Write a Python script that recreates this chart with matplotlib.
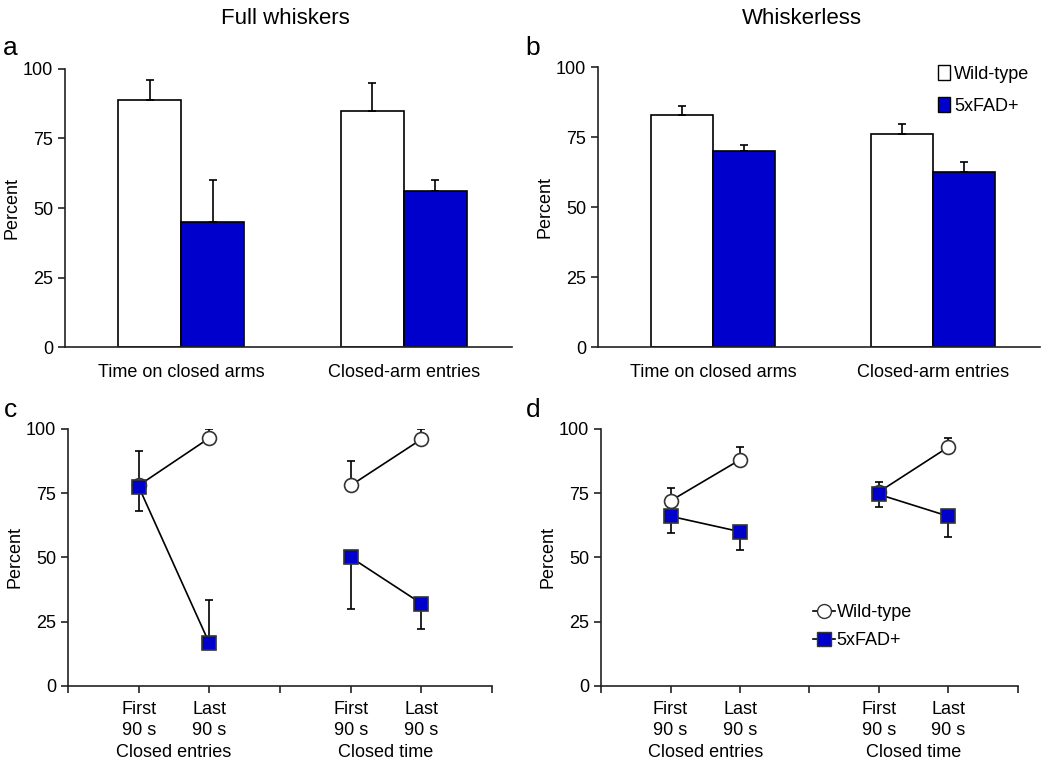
import numpy as np
import matplotlib
matplotlib.use("Agg")
import matplotlib.pyplot as plt
from matplotlib.patches import Patch
from matplotlib.lines import Line2D

plt.rcParams['font.family'] = ['Liberation Sans', 'DejaVu Sans']

BLUE = '#0000cd'

# bar panels (a, b)
bar_groups = ['Time on closed arms', 'Closed-arm entries']
a_wt = [89, 85]
a_wt_err = [7, 10]
a_fad = [45, 56]
a_fad_err = [15, 4]
b_wt = [83, 76]
b_wt_err = [3, 3.5]
b_fad = [70, 62.5]
b_fad_err = [2.3, 3.5]

# line panels (c, d)
phase_labels = ['First\n90 s', 'Last\n90 s']
line_groups = ['Closed entries', 'Closed time']
c_wt = [[78, 96.5], [78, 96]]
c_wt_up = [[13.5, 3.5], [9.5, 4]]
c_fad = [[77.5, 16.5], [50, 32]]
c_fad_lo = [[9.5, 0], [20, 10]]
c_fad_up = [[0, 17], [0, 0]]
d_wt = [[72, 88], [75.5, 93]]
d_wt_up = [[5, 5], [4, 3.5]]
d_fad = [[66, 60], [74.5, 66]]
d_fad_lo = [[6.5, 7], [5, 8]]
d_fad_up = [[0, 0], [0, 0]]

fig = plt.figure(figsize=(10.5, 7.59), dpi=100)


def style(ax):
    ax.spines['top'].set_visible(False)
    ax.spines['right'].set_visible(False)
    for s in ['left', 'bottom']:
        ax.spines[s].set_color('#222222')
        ax.spines[s].set_linewidth(1.2)
    ax.set_ylim(0, 100)
    ax.set_yticks([0, 25, 50, 75, 100])
    ax.tick_params(axis='y', labelsize=13, length=5, width=1.2, color='#222222')
    ax.set_ylabel('Percent', fontsize=13, labelpad=2)


def bar_panel(rect, wt, wt_err, fad, fad_err):
    ax = fig.add_axes(rect)
    x = np.arange(len(bar_groups))
    w = 0.283
    ekw = dict(elinewidth=1.2, capthick=1.2, ecolor='black')
    ax.bar(x - w / 2, wt, w, color='white', edgecolor='black', linewidth=1.2,
           yerr=[[0] * len(wt), wt_err], capsize=3, error_kw=ekw, label='Wild-type')
    ax.bar(x + w / 2, fad, w, color=BLUE, edgecolor='black', linewidth=1.2,
           yerr=[[0] * len(fad), fad_err], capsize=3, error_kw=ekw, label='5xFAD+')
    ax.set_xlim(-0.522, 1.486)
    ax.set_xticks(x)
    ax.set_xticklabels(bar_groups, fontsize=13)
    ax.tick_params(axis='x', length=0, pad=12)
    style(ax)
    return ax


def line_panel(rect, wt, wt_up, fad, fad_lo, fad_up):
    ax = fig.add_axes(rect)
    for g in range(len(line_groups)):
        xs = np.array([1, 2]) + 3 * g
        ax.errorbar(xs, wt[g], yerr=[[0, 0], wt_up[g]], fmt='-o', color='black',
                    lw=1.2, ms=10, mfc='white', mec='#333333', mew=1.2,
                    capsize=3, elinewidth=1.2, capthick=1.2, zorder=2)
        ax.errorbar(xs, fad[g], yerr=[fad_lo[g], fad_up[g]], fmt='-s', color='black',
                    lw=1.2, ms=10, mfc=BLUE, mec='#333333', mew=1.2,
                    capsize=3, elinewidth=1.2, capthick=1.2, zorder=3)
        ax.annotate(line_groups[g], xy=(1.5 + 3 * g, 0),
                    xycoords=('data', 'axes fraction'), xytext=(0, -48),
                    textcoords='offset points', ha='center', va='center', fontsize=13)
    ax.set_xlim(0, 6)
    ax.set_xticks(range(7))
    ax.set_xticklabels([''] + phase_labels + [''] + phase_labels + [''], fontsize=13,
                       linespacing=1.3)
    ax.tick_params(axis='x', length=5, width=1.2, color='#222222', pad=6)
    style(ax)
    return ax


ax_a = bar_panel([0.0619, 0.5428, 0.4257, 0.3663], a_wt, a_wt_err, a_fad, a_fad_err)
ax_b = bar_panel([0.5695, 0.5428, 0.4210, 0.3689], b_wt, b_wt_err, b_fad, b_fad_err)
ax_b.legend(handles=[Patch(facecolor='white', edgecolor='black', label='Wild-type'),
                     Patch(facecolor=BLUE, edgecolor='black', label='5xFAD+')],
            loc='upper right', bbox_to_anchor=(1.012, 1.065), frameon=False, fontsize=13,
            handlelength=0.7, handleheight=0.9, handletextpad=0.2, labelspacing=0.8)

ax_c = line_panel([0.0648, 0.0966, 0.4038, 0.3382], c_wt, c_wt_up, c_fad, c_fad_lo, c_fad_up)
ax_d = line_panel([0.5724, 0.0966, 0.3971, 0.3382], d_wt, d_wt_up, d_fad, d_fad_lo, d_fad_up)
ax_d.legend(handles=[Line2D([], [], color='black', lw=1.2, marker='o', ms=10, mfc='white',
                            mec='#333333', label='Wild-type'),
                     Line2D([], [], color='black', lw=1.2, marker='s', ms=10, mfc=BLUE,
                            mec='#333333', label='5xFAD+')],
            loc='center left', bbox_to_anchor=(0.47, 0.23), frameon=False, fontsize=13,
            handlelength=1.2, handletextpad=0.1, labelspacing=0.6)

fig.text(285 / 1050, 1 - 18 / 759, 'Full whiskers', ha='center', va='center', fontsize=16)
fig.text(802 / 1050, 1 - 18 / 759, 'Whiskerless', ha='center', va='center', fontsize=16)
for lab, x, y in [('a', 10, 48), ('b', 533, 48), ('c', 10, 410), ('d', 533, 410)]:
    fig.text(x / 1050, 1 - y / 759, lab, ha='center', va='center', fontsize=19)

fig.savefig('out.png', dpi=100)
